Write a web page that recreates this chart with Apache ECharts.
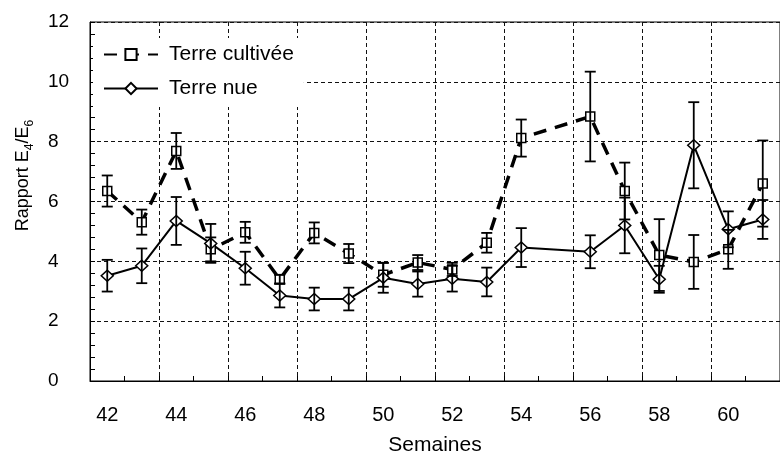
<!DOCTYPE html>
<html>
<head>
<meta charset="utf-8">
<script src="https://cdn.jsdelivr.net/npm/echarts@6/dist/echarts.min.js"></script>
<style>
  html, body { margin: 0; padding: 0; background: #fff; }
  #chart { width: 780px; height: 461px; }
</style>
</head>
<body>
<div id="chart"></div>
<script>
// Weeks on the x axis (week 55 has no sample)
const weeks = ['42','43','44','45','46','47','48','49','50','51','52','53','54','55','56','57','58','59','60','61'];

// E4/E6 ratio, cultivated soil: mean and half error bar
const cultivee    = [6.35, 5.31, 7.69, 4.40, 4.97, 3.40, 4.95, 4.26, 3.55, 3.96, 3.73, 4.62, 8.12, null, 8.84, 6.35, 4.21, 3.98, 4.40, 6.60];
const cultiveeErr = [0.52, 0.42, 0.60, 0.40, 0.35, 0.15, 0.35, 0.32, 0.40, 0.25, 0.22, 0.33, 0.62, null, 1.50, 0.95, 1.20, 0.90, 0.65, 1.44];

// E4/E6 ratio, bare soil: mean and half error bar
const nue    = [3.52, 3.85, 5.35, 4.60, 3.77, 2.86, 2.74, 2.74, 3.45, 3.24, 3.42, 3.31, 4.46, null, 4.32, 5.20, 3.40, 7.88, 5.07, 5.40];
const nueErr = [0.53, 0.58, 0.80, 0.65, 0.55, 0.40, 0.38, 0.38, 0.50, 0.42, 0.43, 0.48, 0.65, null, 0.55, 0.93, 0.45, 1.44, 0.60, 0.65];

const yTicks = { min: 0, max: 12, step: 2 };

const FONT = '"Liberation Sans", Arial, Helvetica, sans-serif';

function errorData(mean, err) {
  const out = [];
  mean.forEach((m, i) => {
    if (m != null && err[i] != null) out.push([i, m - err[i], m + err[i]]);
  });
  return out;
}

function renderErrorBar(params, api) {
  const x = api.value(0);
  const lo = api.coord([x, api.value(1)]);
  const hi = api.coord([x, api.value(2)]);
  const half = 5.5;
  const style = { stroke: '#000', lineWidth: 1.8, fill: null };
  return {
    type: 'group',
    children: [
      { type: 'line', shape: { x1: lo[0], y1: lo[1], x2: hi[0], y2: hi[1] }, style },
      { type: 'line', shape: { x1: hi[0] - half, y1: hi[1], x2: hi[0] + half, y2: hi[1] }, style },
      { type: 'line', shape: { x1: lo[0] - half, y1: lo[1], x2: lo[0] + half, y2: lo[1] }, style }
    ]
  };
}

const chart = echarts.init(document.getElementById('chart'), null, { renderer: 'canvas' });

const gridDash = { color: '#111', width: 1, type: [4, 3] };

chart.setOption({
  animation: false,
  backgroundColor: '#fff',
  textStyle: { fontFamily: FONT, color: '#000' },
  grid: {
    left: 90, top: 22, width: 701, bottom: 78.5,
    show: true, borderColor: '#000', borderWidth: 1, backgroundColor: 'transparent'
  },
  legend: {
    orient: 'vertical',
    left: 93, top: 38,
    padding: [6, 10, 8, 10],
    itemWidth: 54, itemHeight: 14, itemGap: 13,
    backgroundColor: '#fff',
    textStyle: { fontFamily: FONT, fontSize: 21, color: '#000', padding: [0, 0, 0, 6] },
    data: ['Terre cultivée', 'Terre nue']
  },
  xAxis: {
    type: 'category',
    data: weeks,
    boundaryGap: true,
    name: 'Semaines',
    nameLocation: 'middle',
    nameGap: 54,
    nameTextStyle: { fontFamily: FONT, fontSize: 21, color: '#000' },
    axisLine: { lineStyle: { color: '#000', width: 1 } },
    axisTick: { show: true, inside: true, interval: 0, length: 5, lineStyle: { color: '#000' } },
    axisLabel: { interval: 1, fontFamily: FONT, fontSize: 20, color: '#000', margin: 24 },
    splitLine: { show: true, interval: 1, lineStyle: gridDash }
  },
  yAxis: {
    type: 'value',
    min: yTicks.min, max: yTicks.max, interval: yTicks.step,
    name: '{n|Rapport E}{s|4}{n|/E}{s|6}',
    nameLocation: 'middle',
    nameGap: 58,
    nameRotate: 90,
    nameTextStyle: {
      fontFamily: FONT, color: '#000',
      padding: [0, 0, 0, 52],
      rich: {
        n: { fontFamily: FONT, fontSize: 18, color: '#000', lineHeight: 21, verticalAlign: 'bottom' },
        s: { fontFamily: FONT, fontSize: 12, color: '#000', lineHeight: 21, verticalAlign: 'bottom', padding: [0, 0, -4, 0] }
      }
    },
    axisLine: { show: true, lineStyle: { color: '#000', width: 1 } },
    axisTick: { show: true, inside: true, length: 5, lineStyle: { color: '#000' } },
    minorTick: { show: true, splitNumber: 5, length: 5, lineStyle: { color: '#000' } },
    axisLabel: { fontFamily: FONT, fontSize: 19, color: '#000', margin: 42, align: 'left' },
    splitLine: { show: true, lineStyle: gridDash }
  },
  series: [
    {
      name: 'Terre cultivée',
      type: 'line',
      data: cultivee,
      connectNulls: true,
      symbol: 'rect',
      symbolSize: 9,
      showAllSymbol: true,
      lineStyle: { color: '#000', width: 3.5, type: [13, 9] },
      itemStyle: { color: '#fff', borderColor: '#000', borderWidth: 1.5 },
      z: 3
    },
    {
      name: 'Terre nue',
      type: 'line',
      data: nue,
      connectNulls: true,
      symbol: 'diamond',
      symbolSize: [12, 11],
      showAllSymbol: true,
      lineStyle: { color: '#000', width: 2 },
      itemStyle: { color: '#fff', borderColor: '#000', borderWidth: 1.5 },
      z: 3
    },
    {
      name: 'errCultivee',
      type: 'custom',
      renderItem: renderErrorBar,
      data: errorData(cultivee, cultiveeErr),
      encode: { x: 0, y: [1, 2] },
      z: 4,
      silent: true
    },
    {
      name: 'errNue',
      type: 'custom',
      renderItem: renderErrorBar,
      data: errorData(nue, nueErr),
      encode: { x: 0, y: [1, 2] },
      z: 4,
      silent: true
    }
  ]
});
</script>
</body>
</html>
